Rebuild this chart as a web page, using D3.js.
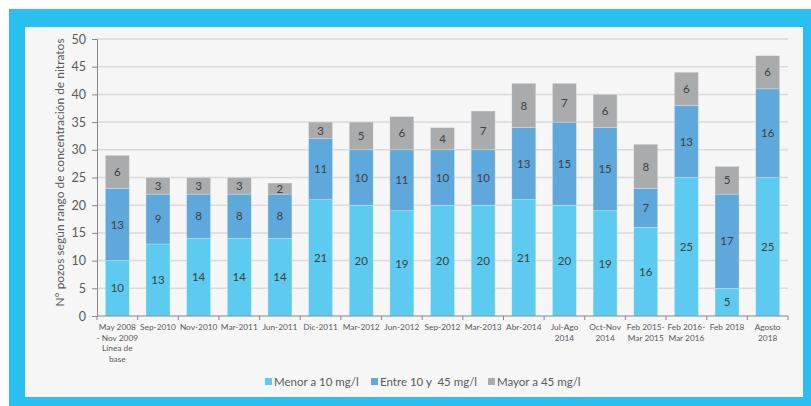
<!DOCTYPE html>
<html><head><meta charset="utf-8">
<script src="https://cdn.jsdelivr.net/npm/d3@7/dist/d3.min.js"></script>
<style>body{margin:0;background:#fff;}svg{display:block;}</style>
</head><body><svg id="c" width="811" height="406"></svg>
<script>
const categories = [
  ["May 2008","- Nov 2009","Línea de","base"],
  ["Sep-2010"],["Nov-2010"],["Mar-2011"],["Jun-2011"],["Dic-2011"],
  ["Mar-2012"],["Jun-2012"],["Sep-2012"],["Mar-2013"],["Abr-2014"],
  ["Jul-Ago","2014"],["Oct-Nov","2014"],["Feb 2015-","Mar 2015"],
  ["Feb 2016-","Mar 2016"],["Feb 2018"],["Agosto","2018"]
];
const menor = [10,13,14,14,14,21,20,19,20,20,21,20,19,16,25,5,25];
const entre = [13,9,8,8,8,11,10,11,10,10,13,15,15,7,13,17,16];
const mayor = [6,3,3,3,2,3,5,6,4,7,8,7,6,8,6,5,6];
const seriesNames = ["Menor a 10 mg/l","Entre 10 y  45 mg/l","Mayor a 45 mg/l"];
const yTicks = [0,5,10,15,20,25,30,35,40,45,50];
const colors = ["#5dcbef","#5fa8db","#a9abac"];

const svg = d3.select("#c");
const font = "Lato, 'Open Sans', sans-serif";
// frame
svg.append("rect").attr("x",9).attr("y",9).attr("width",802).attr("height",397).attr("fill","#29bff0");
svg.append("rect").attr("x",25).attr("y",27).attr("width",778).attr("height",370).attr("fill","#f6f6f6");

const m = {l:97, r:788, t:39, b:316};
const x = d3.scaleBand().domain(d3.range(categories.length)).range([m.l,m.r]).paddingInner(0.41).paddingOuter(0.205);
const y = d3.scaleLinear().domain([0,50]).range([m.b,m.t]);

// gridlines
svg.append("g").selectAll("line").data(yTicks.filter(d=>d>0)).join("line")
  .attr("x1",m.l).attr("x2",m.r).attr("y1",d=>y(d)).attr("y2",d=>y(d))
  .attr("stroke","#d9d9d9").attr("stroke-width",1.5);

const data = categories.map((c,i)=>({i, menor:menor[i], entre:entre[i], mayor:mayor[i]}));
const stack = d3.stack().keys(["menor","entre","mayor"])(data);

const g = svg.append("g");
stack.forEach((s,si)=>{
  g.selectAll(null).data(s).join("rect")
    .attr("x",d=>x(d.data.i)).attr("width",x.bandwidth())
    .attr("y",d=>y(d[1])).attr("height",d=>y(d[0])-y(d[1]))
    .attr("fill",colors[si]).attr("stroke","#f6f6f6").attr("stroke-opacity",0.5).attr("stroke-width",0.6);
  g.selectAll(null).data(s).join("text")
    .attr("x",d=>x(d.data.i)+x.bandwidth()/2).attr("y",d=>(y(d[0])+y(d[1]))/2)
    .attr("dy","0.36em").attr("text-anchor","middle")
    .attr("font-family",font).attr("font-size",11.5).attr("fill","#404040")
    .text(d=>d[1]-d[0]);
});

// y axis
const ya = svg.append("g").attr("transform",`translate(${m.l},0)`)
  .call(d3.axisLeft(y).tickValues(yTicks).tickSize(5).tickPadding(6));
ya.select(".domain").attr("stroke","#868686");
ya.selectAll(".tick line").attr("stroke","#868686");
ya.selectAll(".tick text").attr("font-family",font).attr("font-size",12.5).attr("fill","#595959");

// x axis
const step = x.step();
const xa = svg.append("g");
xa.append("line").attr("x1",m.l).attr("x2",m.r).attr("y1",m.b).attr("y2",m.b).attr("stroke","#868686");
xa.selectAll(".tk").data(d3.range(categories.length+1)).join("line")
  .attr("x1",i=>m.l+i*step).attr("x2",i=>m.l+i*step).attr("y1",m.b).attr("y2",m.b+4).attr("stroke","#868686");
categories.forEach((lines,i)=>{
  const t = xa.append("text").attr("text-anchor","middle")
    .attr("font-family",font).attr("font-size",8.3).attr("fill","#595959");
  lines.forEach((ln,j)=>{
    t.append("tspan").attr("x",x(i)+x.bandwidth()/2).attr("y",m.b+14+j*10.6).text(ln);
  });
});

// y title
svg.append("text").attr("transform",`translate(64,${(m.t+m.b)/2-5}) rotate(-90)`)
  .attr("text-anchor","middle").attr("font-family",font).attr("font-size",12).attr("fill","#595959")
  .text("N° pozos según rango de concentración de nitratos");

// legend
const legX = [265,371,488];
seriesNames.forEach((n,i)=>{
  svg.append("rect").attr("x",legX[i]).attr("y",378).attr("width",7).attr("height",7).attr("fill",colors[i]);
  svg.append("text").attr("x",legX[i]+9).attr("y",385.5).attr("font-family",font).attr("font-size",11.5)
    .attr("fill","#595959").style("white-space","pre").text(n);
});
</script></body></html>
